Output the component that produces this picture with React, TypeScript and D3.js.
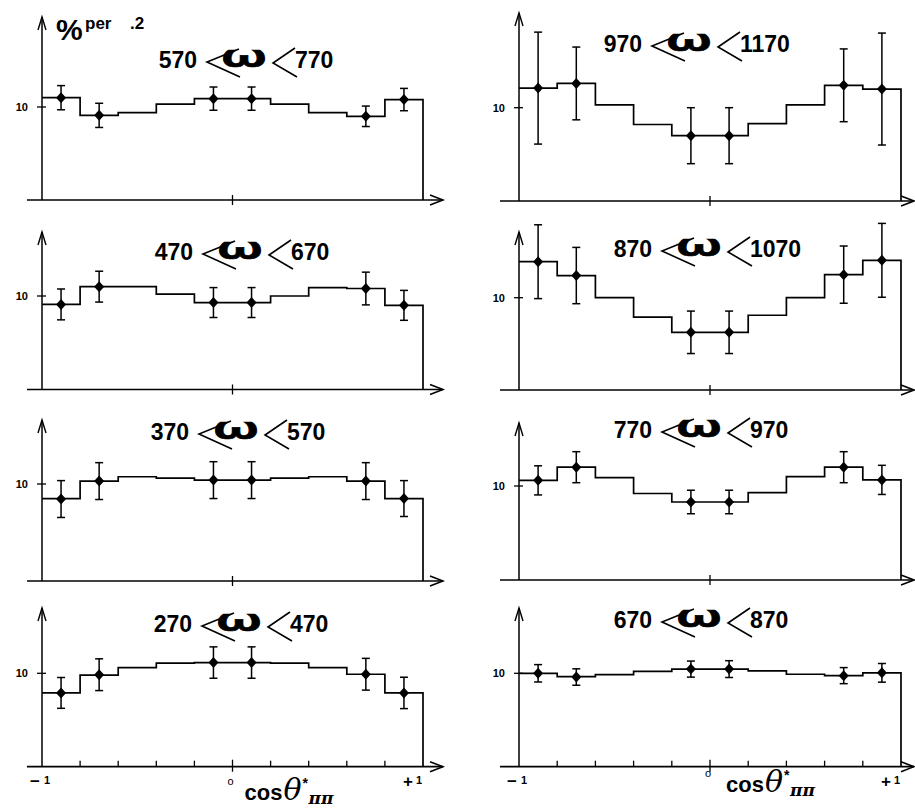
import React from 'react';
import * as d3 from 'd3';

// bin edges of cos theta* (bin width .2) and centres where the measured points sit
const binEdges = [-1, -0.8, -0.6, -0.4, -0.2, 0, 0.2, 0.4, 0.6, 0.8, 1];
const pointX = [-0.9, -0.7, -0.1, 0.1, 0.7, 0.9];
const innerTicks = [-0.8, -0.6, -0.4, -0.2, 0.2, 0.4, 0.6, 0.8];

// left column (% per .2)
const hist570 = [11.0, 9.1, 9.4, 10.3, 10.9, 10.9, 10.3, 9.4, 9.0, 10.8];
const pts570 = [11.0, 9.1, 10.9, 10.9, 9.0, 10.8];
const err570 = [1.3, 1.3, 1.25, 1.25, 1.1, 1.2];

const hist470 = [9.1, 11.0, 11.0, 10.2, 9.3, 9.3, 10.0, 10.9, 10.8, 9.0];
const pts470 = [9.1, 11.0, 9.3, 9.3, 10.8, 9.0];
const err470 = [1.65, 1.65, 1.6, 1.6, 1.75, 1.6];

const hist370 = [8.5, 10.3, 10.75, 10.6, 10.4, 10.4, 10.6, 10.75, 10.3, 8.5];
const pts370 = [8.45, 10.3, 10.4, 10.4, 10.3, 8.5];
const err370 = [1.9, 1.9, 1.9, 1.9, 1.9, 1.85];

const hist270 = [7.9, 9.8, 10.6, 11.1, 11.15, 11.15, 11.1, 10.6, 9.9, 7.9];
const pts270 = [7.9, 9.85, 11.15, 11.15, 9.9, 7.9];
const err270 = [1.65, 1.7, 1.68, 1.68, 1.7, 1.68];

// right column
const hist970 = [12.1, 12.6, 10.3, 8.2, 7.0, 7.0, 8.3, 10.3, 12.4, 12.0];
const pts970 = [12.1, 12.6, 7.0, 7.0, 12.4, 12.0];
const err970 = [6.0, 3.9, 3.0, 3.0, 3.9, 6.0];

const hist870 = [13.9, 12.4, 10.0, 7.9, 6.25, 6.25, 8.1, 10.0, 12.5, 14.05];
const pts870 = [13.9, 12.4, 6.25, 6.25, 12.5, 14.05];
const err870 = [4.0, 3.05, 2.3, 2.3, 3.1, 4.0];

const hist770 = [10.6, 12.0, 10.9, 9.2, 8.3, 8.3, 9.3, 11.0, 12.0, 10.65];
const pts770 = [10.6, 12.0, 8.3, 8.3, 12.0, 10.65];
const err770 = [1.55, 1.65, 1.25, 1.25, 1.65, 1.55];

const hist670 = [10.0, 9.65, 9.85, 10.2, 10.45, 10.45, 10.25, 9.9, 9.75, 10.05];
const pts670 = [10.0, 9.6, 10.45, 10.45, 9.75, 10.05];
const err670 = [0.93, 0.88, 0.86, 0.9, 0.86, 1.0];

const panels = [
  { lo: '570', hi: '770', hist: hist570, pts: pts570, err: err570, col: 0, row: 0 },
  { lo: '470', hi: '670', hist: hist470, pts: pts470, err: err470, col: 0, row: 1 },
  { lo: '370', hi: '570', hist: hist370, pts: pts370, err: err370, col: 0, row: 2 },
  { lo: '270', hi: '470', hist: hist270, pts: pts270, err: err270, col: 0, row: 3 },
  { lo: '970', hi: '1170', hist: hist970, pts: pts970, err: err970, col: 1, row: 0 },
  { lo: '870', hi: '1070', hist: hist870, pts: pts870, err: err870, col: 1, row: 1 },
  { lo: '770', hi: '970', hist: hist770, pts: pts770, err: err770, col: 1, row: 2 },
  { lo: '670', hi: '870', hist: hist670, pts: pts670, err: err670, col: 1, row: 3 },
];

// layout
const colRange = [[42, 423], [519, 901]];
const lineExtent = [[27, 443], [500, 914]];
const rowBase = [[200, 389.5, 581, 766.7], [201, 390, 580, 766.7]];
const rowTen = [[107, 296, 484, 673.3], [107.7, 297.7, 486, 673.3]];
const axisTop = [[17, 232, 420, 608], [13, 232, 423, 608]];
const titlePos = [
  [[233, 68], [229, 260], [225, 440], [228, 632]],
  [[678, 52], [688, 257], [688, 438], [688, 628]],
];

const font = '"Liberation Sans", Arial, sans-serif';
const sw = 1.7;

function Title({ cx, by, lo, hi }: { cx: number; by: number; lo: string; hi: string }) {
  return (
    <g>
      <text x={cx - 36} y={by} textAnchor="end" fontFamily={font} fontWeight="bold" fontSize={23}>{lo}</text>
      <path d={`M${cx + 6},${by - 19} L${cx - 26},${by - 6} L${cx + 7},${by + 9}`} fill="none" stroke="#000" strokeWidth={1.6} />
      <text x={0} y={0} transform={`translate(${cx + 11},${by - 1}) scale(1.75,1)`} textAnchor="middle"
        fontFamily='"Noto Sans", sans-serif' fontWeight="bold" fontSize={31} stroke="#000" strokeWidth={0.6}>ω</text>
      <path d={`M${cx + 62},${by - 20} L${cx + 40},${by - 5} L${cx + 64},${by + 9}`} fill="none" stroke="#000" strokeWidth={1.6} />
      <text x={cx + 62} y={by} fontFamily={font} fontWeight="bold" fontSize={23}>{hi}</text>
    </g>
  );
}

function Panel({ p }: { p: typeof panels[number] }) {
  const { col, row } = p;
  const x = d3.scaleLinear().domain([-1, 1]).range(colRange[col]);
  const base = rowBase[col][row];
  const y = d3.scaleLinear().domain([0, 10]).range([base, rowTen[col][row]]);
  const [lx0, lx1] = lineExtent[col];
  const top = axisTop[col][row];
  const bottom = row === 3;

  const stepData = p.hist.map((v, i) => [binEdges[i], v] as [number, number]);
  stepData.push([1, p.hist[p.hist.length - 1]]);
  const line = d3.line<[number, number]>()
    .x(d => x(d[0]))
    .y(d => y(d[1]))
    .curve(d3.curveStepAfter);
  const histPath = line(stepData) + `V${y(0)}`;

  const [tcx, tby] = titlePos[col][row];

  return (
    <g>
      {/* x axis */}
      <line x1={lx0} x2={lx1} y1={base} y2={base} stroke="#000" strokeWidth={sw} />
      <path d={`M${lx1 - 13},${base - 5} L${lx1},${base} L${lx1 - 13},${base + 5}`} fill="none" stroke="#000" strokeWidth={1.5} />
      <line x1={x(0)} x2={x(0)} y1={base - (bottom ? 7 : 5)} y2={base + 5} stroke="#000" strokeWidth={1.3} />
      {bottom && innerTicks.map(t => (
        <line key={t} x1={x(t)} x2={x(t)} y1={base - 6} y2={base} stroke="#000" strokeWidth={1.3} />
      ))}
      {/* y axis */}
      <line x1={x(-1)} x2={x(-1)} y1={base} y2={top} stroke="#000" strokeWidth={1.5} />
      <path d={`M${x(-1) - 4},${top + 13} L${x(-1)},${top} L${x(-1) + 4},${top + 13}`} fill="none" stroke="#000" strokeWidth={1.4} />
      <line x1={x(-1) - 5} x2={x(-1) + 4} y1={y(10)} y2={y(10)} stroke="#000" strokeWidth={1.3} />
      <text x={x(-1) - 14} y={y(10) + 4} textAnchor="end" fontFamily={font} fontWeight="bold" fontSize={11}>10</text>
      {/* histogram */}
      <path d={histPath} fill="none" stroke="#000" strokeWidth={sw} />
      {/* points with errors */}
      {p.pts.map((v, i) => {
        const px = x(pointX[i]);
        const e = p.err[i];
        return (
          <g key={i}>
            <line x1={px} x2={px} y1={y(v - e)} y2={y(v + e)} stroke="#000" strokeWidth={1.5} />
            <line x1={px - 4} x2={px + 4} y1={y(v - e)} y2={y(v - e)} stroke="#000" strokeWidth={1.5} />
            <line x1={px - 4} x2={px + 4} y1={y(v + e)} y2={y(v + e)} stroke="#000" strokeWidth={1.5} />
            <path d={`M${px},${y(v) - 5.5} L${px + 5},${y(v)} L${px},${y(v) + 5.5} L${px - 5},${y(v)} Z`} fill="#000" />
          </g>
        );
      })}
      <Title cx={tcx} by={tby} lo={p.lo} hi={p.hi} />
      {bottom && (
        <g fontFamily={font} fontWeight="bold">
          <text x={x(-1) - 12} y={base + 20} fontSize={17}>−</text>
          <text x={x(-1) + 2} y={base + 17} fontSize={11}>1</text>
          <text x={x(0) - 2} y={base + (col === 0 ? 18 : 10)} textAnchor="middle" fontSize={11} fontWeight="normal">o</text>
          <text x={x(1) - 20} y={base + 20} fontSize={17}>+</text>
          <text x={x(1) - 7} y={base + 17} fontSize={11}>1</text>
          <g transform={`translate(${x(0) + (col === 0 ? 12 : 16)},${base + (col === 0 ? 33 : 25)})`}>
            <text x={0} y={0} fontSize={22}>cos</text>
            <text x={39} y={0} fontSize={30} fontFamily='"DejaVu Serif", serif' fontStyle="italic" fontWeight="normal">θ</text>
            <text x={58} y={-12} fontSize={14}>*</text>
            <text x={64} y={4} fontSize={17} fontFamily='"DejaVu Serif", serif' fontStyle="italic">ππ</text>
          </g>
        </g>
      )}
    </g>
  );
}

export default function App() {
  return (
    <svg width={915} height={811} style={{ position: 'absolute', left: 0, top: 0, background: '#fff' }}>
      <rect width={915} height={811} fill="#fff" />
      <text x={56} y={40} fontFamily={font} fontWeight="bold" fontSize={30}>%</text>
      <text x={85} y={29} fontFamily={font} fontWeight="bold" fontSize={17}>per</text>
      <text x={130} y={29} fontFamily={font} fontWeight="bold" fontSize={17}>.2</text>
      {panels.map(p => <Panel key={p.lo + p.hi} p={p} />)}
    </svg>
  );
}
